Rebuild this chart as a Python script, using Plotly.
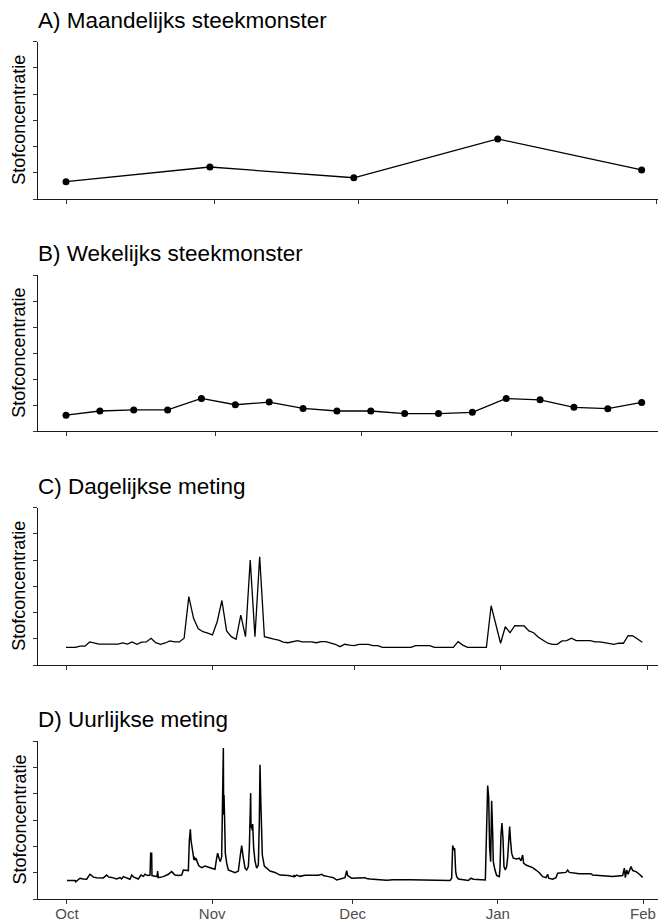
import pandas as pd
import plotly.graph_objects as go

# The page body has an 8px margin, so the figure is drawn 8px smaller and
# all pixel positions below are page positions minus that offset.
PAGE_OFF = 8
W, H = 666 - PAGE_OFF, 923 - PAGE_OFF

# ---------------- data ----------------
month_tick_dates = ["2019-10-01", "2019-11-01", "2019-12-01", "2020-01-01", "2020-02-01"]
month_tick_labels = ["Oct", "Nov", "Dec", "Jan", "Feb"]

panel_titles = ["A) Maandelijks steekmonster", "B) Wekelijks steekmonster",
                "C) Dagelijkse meting", "D) Uurlijkse meting"]
y_label = "Stofconcentratie"

# A) monthly grab samples
monthly_dates = ["2019-10-01", "2019-10-31", "2019-11-30", "2019-12-30", "2020-01-29"]
monthly_values = [0.66, 1.22, 0.81, 2.29, 1.11]

# B) weekly grab samples
weekly_dates = ["2019-10-01", "2019-10-08", "2019-10-15", "2019-10-22", "2019-10-29",
                "2019-11-05", "2019-11-12", "2019-11-19", "2019-11-26", "2019-12-03",
                "2019-12-10", "2019-12-17", "2019-12-24", "2019-12-31", "2020-01-07",
                "2020-01-14", "2020-01-21", "2020-01-28"]
weekly_values = [0.62, 0.78, 0.82, 0.82, 1.26, 1.02, 1.12, 0.88, 0.78, 0.78,
                 0.68, 0.68, 0.73, 1.26, 1.21, 0.92, 0.87, 1.11]

# C) daily measurement (Oct 1 .. Jan 31)
daily_start = "2019-10-01"
daily_values = [
    0.67, 0.67, 0.67, 0.72, 0.72, 0.88, 0.83, 0.80, 0.80, 0.80,
    0.80, 0.80, 0.84, 0.80, 0.88, 0.79, 0.87, 0.88, 1.02, 0.85,
    0.79, 0.84, 0.92, 0.88, 0.88, 1.02, 2.61, 1.78, 1.38, 1.27,
    1.22, 1.15, 1.65, 2.46, 1.30, 1.08, 0.98, 1.90, 1.08, 4.00,
    1.08, 4.13, 1.08, 1.02, 0.99, 0.95, 0.87, 0.85, 0.89, 0.93,
    0.88, 0.88, 0.88, 0.85, 0.89, 0.89, 0.85, 0.79, 0.70, 0.79,
    0.76, 0.74, 0.79, 0.79, 0.79, 0.74, 0.74, 0.67, 0.67, 0.67,
    0.67, 0.67, 0.67, 0.67, 0.74, 0.74, 0.74, 0.74, 0.67, 0.67,
    0.67, 0.67, 0.67, 0.89, 0.76, 0.67, 0.67, 0.67, 0.67, 0.67,
    2.26, 1.53, 0.83, 1.46, 1.23, 1.50, 1.49, 1.49, 1.30, 1.23,
    1.06, 0.93, 0.83, 0.79, 0.79, 0.92, 0.93, 1.02, 0.93, 0.93,
    0.93, 0.93, 0.88, 0.88, 0.85, 0.83, 0.79, 0.83, 0.83, 1.12,
    1.11, 0.99, 0.87,
]

# D) hourly measurement, read as (days since Oct 1, value) vertices
hourly_day_offsets = [
    0.00, 1.71, 1.85, 2.14, 2.78, 3.49, 4.20, 4.56, 4.91, 5.27,
    5.62, 6.33, 7.76, 8.47, 8.83, 9.54, 10.60, 11.32, 11.67, 12.03,
    12.74, 13.45, 13.81, 14.17, 15.23, 15.80, 16.30, 16.66, 17.23, 17.73,
    17.87, 18.08, 18.15, 18.79, 19.22, 19.36, 19.50, 20.57, 21.64, 22.35,
    23.06, 23.78, 24.49, 24.85, 25.91, 26.13, 26.34, 26.48, 26.77, 27.00,
    27.10, 27.20, 27.35, 27.56, 27.91, 28.20, 28.77, 29.48, 30.55, 31.26,
    31.60, 31.96, 32.17, 32.46, 32.74, 33.03, 33.17, 33.39, 33.45, 33.53,
    33.67, 33.81, 34.10, 34.45, 35.88, 36.59, 37.02, 37.30, 37.66, 38.02,
    38.37, 38.73, 38.94, 39.22, 39.30, 39.44, 39.55, 39.65, 39.86, 40.15,
    40.50, 40.86, 41.07, 41.22, 41.36, 41.50, 41.71, 42.14, 42.64, 43.35,
    44.42, 45.49, 47.27, 48.33, 48.50, 48.70, 49.04, 49.76, 50.82, 53.67,
    54.38, 54.74, 55.81, 56.88, 57.59, 58.66, 59.37, 59.72, 59.94, 60.79,
    62.21, 63.64, 63.99, 64.70, 68.26, 69.68, 73.24, 77.51, 77.66, 81.79,
    82.14, 82.36, 82.57, 82.78, 83.00, 83.21, 83.57, 85.70, 86.27, 86.77,
    89.33, 89.47, 89.83, 90.04, 90.25, 90.47, 90.68, 90.89, 91.03, 91.39,
    91.75, 92.32, 92.46, 92.67, 92.88, 93.10, 93.31, 93.60, 93.88, 94.09,
    94.31, 94.52, 94.73, 94.95, 95.30, 96.02, 96.59, 96.95, 97.30, 97.50,
    98.00, 98.72, 99.43, 100.14, 100.86, 101.57, 102.28, 102.64, 102.85, 103.70,
    104.42, 104.77, 105.84, 106.55, 106.91, 107.27, 109.40, 111.89, 112.25, 115.10,
    116.52, 118.66, 119.02, 119.23, 119.51, 119.80, 120.08, 120.44, 120.80, 121.51,
    122.22, 122.93,
]
hourly_values = [
    0.70, 0.70, 0.65, 0.70, 0.79, 0.76, 0.75, 0.85, 0.94, 0.89,
    0.83, 0.81, 0.80, 0.91, 0.84, 0.82, 0.76, 0.81, 0.76, 0.85,
    0.79, 0.75, 0.91, 0.84, 0.76, 0.91, 0.86, 0.94, 0.89, 0.91,
    1.74, 1.74, 0.89, 0.85, 0.85, 1.06, 0.81, 0.85, 0.94, 1.04,
    0.91, 0.89, 0.91, 1.10, 1.08, 2.23, 2.65, 2.23, 1.74, 1.62,
    1.48, 1.61, 1.47, 1.55, 1.36, 1.25, 1.19, 1.25, 1.19, 1.14,
    1.13, 1.55, 1.74, 1.55, 1.42, 1.61, 3.00, 5.73, 3.20, 3.95,
    2.93, 1.74, 1.36, 1.10, 1.00, 1.06, 1.67, 2.03, 1.55, 1.17,
    1.10, 1.23, 1.93, 4.02, 2.70, 2.81, 2.60, 2.85, 1.93, 1.44,
    1.17, 1.29, 2.94, 5.10, 3.89, 2.56, 1.67, 1.25, 1.17, 1.06,
    1.01, 0.91, 0.89, 0.85, 0.91, 0.85, 0.91, 0.86, 0.90, 0.90,
    0.94, 0.89, 0.85, 0.81, 0.72, 0.76, 0.81, 1.08, 0.89, 0.79,
    0.81, 0.81, 0.78, 0.76, 0.71, 0.73, 0.73, 0.72, 0.70, 0.70,
    0.79, 2.03, 1.87, 1.93, 1.04, 0.85, 0.76, 0.70, 0.79, 0.75,
    0.72, 2.03, 4.31, 3.89, 1.93, 1.42, 3.73, 2.56, 1.42, 1.10,
    0.89, 0.85, 1.17, 2.43, 2.88, 2.31, 1.23, 1.10, 1.23, 1.55,
    2.43, 2.75, 2.18, 1.74, 1.55, 1.52, 1.55, 1.45, 1.67, 1.36,
    1.29, 1.25, 1.19, 1.10, 1.00, 0.85, 0.81, 0.94, 0.79, 0.75,
    0.81, 0.98, 1.01, 1.01, 1.10, 1.01, 0.96, 0.96, 0.91, 0.87,
    0.85, 0.89, 1.17, 0.81, 1.10, 0.94, 1.07, 1.23, 1.08, 1.04,
    0.94, 0.82,
]

# ---------------- derived x values ----------------
base = pd.Timestamp("2019-10-01")
daily_dates = pd.date_range(daily_start, periods=len(daily_values), freq="D")
hourly_times = [base + pd.Timedelta(days=d) for d in hourly_day_offsets]

series = [
    (monthly_dates, monthly_values, "lines+markers", 1.3),
    (weekly_dates, weekly_values, "lines+markers", 1.3),
    (list(daily_dates), daily_values, "lines", 1.3),
    (hourly_times, hourly_values, "lines", 1.5),
]

# ---------------- layout geometry (page pixels) ----------------
plot_left_px = 38
panel_top_px = [41.7, 275.0, 507.7, 741.0]
panel_bot_px = [199.0, 431.3, 665.0, 899.0]
# x-range padding in days before Oct 1 and after Feb 1 per panel
x_pad_before = [5.84, 5.79, 5.93, 6.19]
x_pad_after = [2.08, 1.03, 4.02, 4.91]


def px_x(p):
    return (p - PAGE_OFF) / W


def px_y(p):
    return 1 - (p - PAGE_OFF) / H


FONT = "Liberation Sans, Arial, sans-serif"

fig = go.Figure()
layout = dict(
    width=W, height=H,
    margin=dict(l=0, r=0, t=0, b=0),
    paper_bgcolor="white", plot_bgcolor="white",
    showlegend=False,
    font=dict(family=FONT, color="black"),
)

annotations = []
for i, (xs, ys, mode, lw) in enumerate(series):
    n = i + 1
    xa = "x" if n == 1 else f"x{n}"
    ya = "y" if n == 1 else f"y{n}"
    fig.add_trace(go.Scatter(
        x=xs, y=ys, mode=mode, xaxis=xa, yaxis=ya,
        line=dict(color="black", width=lw),
        marker=dict(color="black", size=7),
        hoverinfo="skip",
    ))
    x0 = base - pd.Timedelta(days=x_pad_before[i])
    x1 = pd.Timestamp("2020-02-01") + pd.Timedelta(days=x_pad_after[i])
    last = (i == 3)
    layout[f"xaxis{'' if n == 1 else n}"] = dict(
        domain=[px_x(plot_left_px), 1.0],
        anchor=ya,
        type="date",
        range=[x0, x1],
        tickmode="array",
        tickvals=month_tick_dates,
        ticktext=month_tick_labels,
        showticklabels=last,
        ticks="outside", ticklen=4, tickwidth=1, tickcolor="#333333",
        tickfont=dict(size=15, color="#4D4D4D", family=FONT),
        ticklabelstandoff=-3,
        showline=True, linecolor="#1a1a1a", linewidth=1,
        showgrid=False, zeroline=False, automargin=False,
    )
    layout[f"yaxis{'' if n == 1 else n}"] = dict(
        domain=[px_y(panel_bot_px[i]), px_y(panel_top_px[i])],
        anchor=xa,
        range=[0, 6],
        tick0=0, dtick=1,
        showticklabels=False,
        ticks="outside", ticklen=4, tickwidth=1, tickcolor="#333333",
        showline=True, linecolor="#1a1a1a", linewidth=1,
        showgrid=False, zeroline=False, automargin=False,
    )
    # panel title
    annotations.append(dict(
        text=panel_titles[i], xref="paper", yref="paper",
        x=px_x(36), xanchor="left",
        y=px_y(panel_top_px[i] - 21.5), yanchor="middle",
        showarrow=False, font=dict(size=22.5, color="black", family=FONT),
    ))
    # y-axis label
    annotations.append(dict(
        text=y_label, xref="paper", yref="paper",
        x=px_x(19.5), xanchor="center",
        y=px_y((panel_top_px[i] + panel_bot_px[i]) / 2), yanchor="middle",
        textangle=-90, showarrow=False,
        font=dict(size=18, color="black", family=FONT),
    ))

layout["annotations"] = annotations
fig.update_layout(**layout)
fig.write_html("out.html")
